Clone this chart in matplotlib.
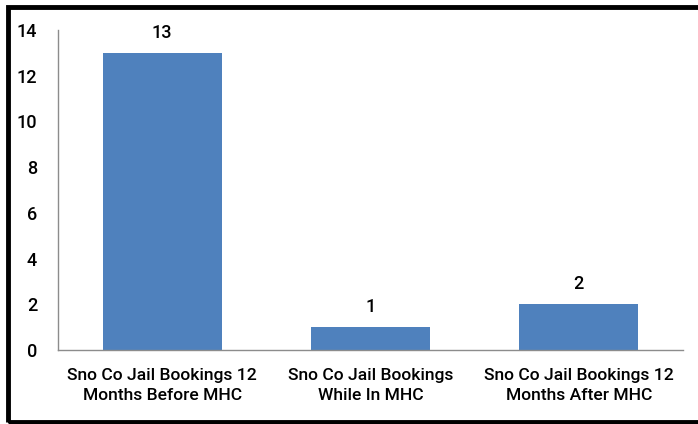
import matplotlib.pyplot as plt
from matplotlib.patches import Rectangle

categories = ["Sno Co Jail Bookings 12\nMonths Before MHC",
              "Sno Co Jail Bookings\nWhile In MHC",
              "Sno Co Jail Bookings 12\nMonths After MHC"]
bookings = [13, 1, 2]
yticks = [0, 2, 4, 6, 8, 10, 12, 14]

plt.rcParams["font.family"] = ["Roboto", "DejaVu Sans"]
plt.rcParams["font.weight"] = "medium"

fig = plt.figure(figsize=(6.98, 4.24), dpi=100)
ax = fig.add_axes([58 / 698, 74 / 424, 625 / 698, 320 / 424])

x = range(len(categories))
bars = ax.bar(x, bookings, width=0.57, color="#4F81BD")
for b, v in zip(bars, bookings):
    ax.annotate(str(v), (b.get_x() + b.get_width() / 2, v), xytext=(0, 8),
                textcoords="offset points", ha="center", va="bottom",
                fontsize=13)

ax.set_xlim(-0.5, 2.5)
ax.set_ylim(0, 14)
ax.set_yticks(yticks)
ax.set_xticks(list(x))
ax.set_xticklabels(categories, fontsize=12.6, linespacing=1.45)
ax.tick_params(axis="y", length=0, labelsize=13, pad=15)
ax.tick_params(axis="x", length=0, pad=13)

for side in ["top", "right"]:
    ax.spines[side].set_visible(False)
for side in ["left", "bottom"]:
    ax.spines[side].set_color("#8c8c8c")
    ax.spines[side].set_linewidth(1.0)

# thick black frame around the chart (right edge runs off the image)
fig.patches.append(Rectangle((8 / 698, 2 / 424), 1.0, 415 / 424,
                             transform=fig.transFigure, fill=False,
                             edgecolor="black", linewidth=3.5))

fig.savefig("out.png", dpi=100)
